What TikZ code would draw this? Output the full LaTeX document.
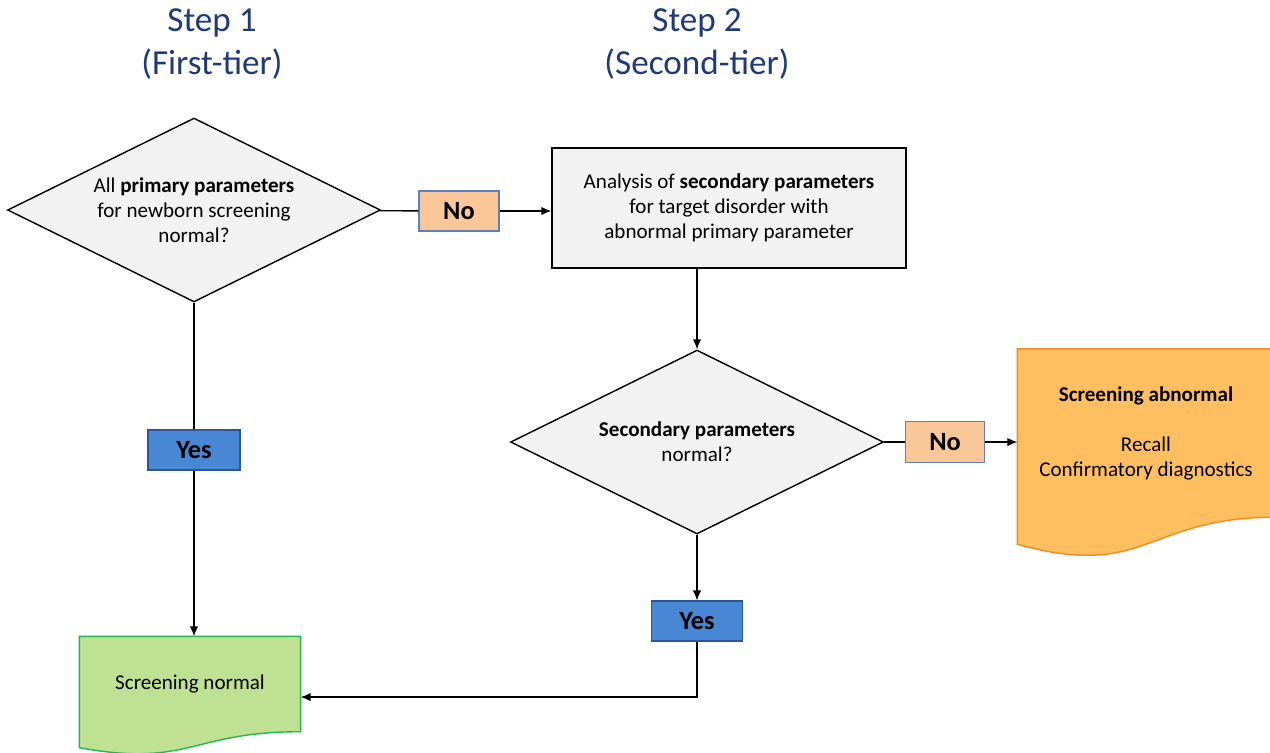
\documentclass[tikz,border=0pt]{standalone}
\usepackage{fontspec}
\setmainfont{Carlito}
\usepackage{xcolor}
\usetikzlibrary{arrows.meta}
\usetikzlibrary{calc}
\usetikzlibrary{shapes.geometric}

\definecolor{titleblue}{HTML}{1F3A78}
\definecolor{boxgrey}{HTML}{F2F2F2}
\definecolor{nofill}{HTML}{FAC898}
\definecolor{yesfill}{HTML}{4787D3}
\definecolor{yesline}{HTML}{2F5597}
\definecolor{thinblue}{HTML}{5B7FBF}
\definecolor{normfill}{HTML}{BEE194}
\definecolor{normline}{HTML}{22B84A}
\definecolor{abnfill}{HTML}{FFBF60}
\definecolor{abnline}{HTML}{F58A1F}

\begin{document}
\begin{tikzpicture}[x=0.02cm,y=-0.02cm,line width=0.8pt,>={Latex[length=2mm,width=1.7mm]},
    txt/.style={font=\fontsize{12}{14.2}\selectfont,align=center},
    steptitle/.style={font=\fontsize{20}{25}\selectfont,align=center,text=titleblue},
    question/.style={txt,diamond,aspect=2,draw,fill=boxgrey,inner sep=0pt,
      minimum width=7.46cm,minimum height=3.68cm},
    answer/.style={draw=thinblue,line width=0.6pt,minimum width=1.6cm,minimum height=0.8cm,
      inner sep=0pt,font=\fontsize{15}{18}\selectfont\bfseries},
    docnode/.style={txt,inner sep=0pt}]
  \useasboundingbox (0,0) rectangle (1270,752);

  % headers
  \node[steptitle] (stepone) at (212,44) {Step 1\\(First-tier)};
  \node[steptitle] (steptwo) at (697,44) {Step 2\\(Second-tier)};

  % first tier
  \node[question] (primary) at (194,210) {All \textbf{primary parameters}\\for newborn screening\\normal?};
  \node[answer,fill=nofill] (noone) at (459,211) {No};
  \node[answer,fill=yesfill,draw=yesline,minimum width=1.84cm] (yesone) at (194,450) {Yes};

  % second tier
  \node[txt,draw,fill=boxgrey,minimum width=7.08cm,minimum height=2.4cm] (analysis) at (729,208)
    {Analysis of \textbf{secondary parameters}\\for target disorder with\\abnormal primary parameter};
  \node[question] (secondary) at (697,442) {\textbf{Secondary parameters}\\normal?};
  \node[answer,fill=nofill,minimum width=1.58cm,minimum height=0.82cm] (notwo) at (945,442) {No};
  \node[answer,fill=yesfill,draw=yesline,minimum width=1.82cm] (yestwo) at (697,621) {Yes};

  % outcomes
  \node[docnode,minimum width=4.4cm,minimum height=1.88cm] (normal) at (190,684) {};
  \draw[draw=normline,fill=normfill] (normal.north west) -- (normal.north east) -- (normal.south east)
    .. controls (normal.south) and ($(normal.south)+(0,36)$) .. ($(normal.south west)+(0,16)$) -- cycle;
  \node[docnode] at (normal) {Screening normal};

  \node[docnode,minimum width=5.12cm,minimum height=3.34cm] (abnormal) at (1146,433) {};
  \draw[draw=abnline,fill=abnfill] (abnormal.north west) -- (abnormal.north east) -- (abnormal.south east)
    .. controls (abnormal.south) and ($(abnormal.south)+(0,63)$) .. ($(abnormal.south west)+(0,27)$) -- cycle;
  \node[docnode] at (abnormal) {\textbf{Screening abnormal}\\[14.2pt]Recall\\Confirmatory diagnostics};

  % connectors
  \path (primary) edge (noone);
  \path[->] (noone) edge (noone -| analysis.west);
  \path[->] (analysis.south -| secondary) edge (secondary);
  \path (secondary) edge (notwo);
  \path[->] (notwo) edge (notwo -| abnormal.west);
  \path (primary) edge (yesone);
  \path[->] (yesone) edge (yesone |- normal.north);
  \path[->] (secondary) edge (yestwo);
  \coordinate (turn) at (697,697);
  \draw[->] (yestwo) -- (turn) -- (turn -| normal.east);
\end{tikzpicture}
\end{document}
